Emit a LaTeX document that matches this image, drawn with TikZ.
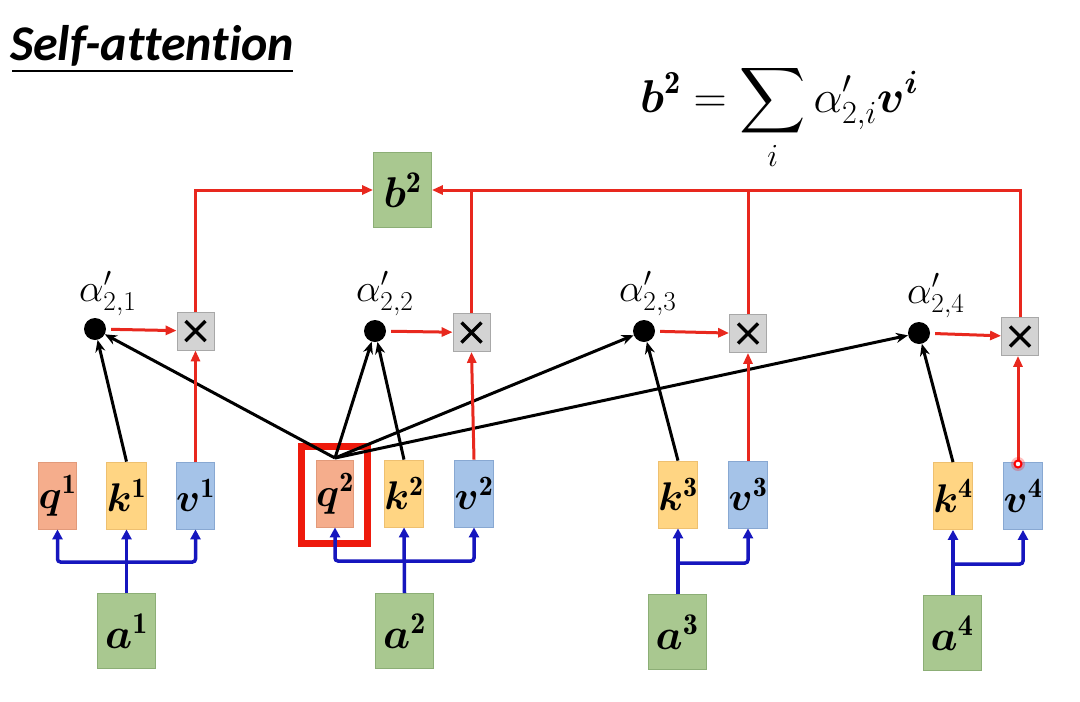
\RequirePackage{fix-cm}
\documentclass[tikz,border=0pt]{standalone}
\usepackage{amsmath}
\usepackage{bm}
\DeclareFontShape{OMX}{cmex}{m}{n}{<-> cmex10}{}
\usepackage{fontspec}
\newfontfamily\titlefont[Ligatures=NoCommon]{Carlito}
\usetikzlibrary{arrows.meta}
\definecolor{qcol}{HTML}{F5AD8C}
\definecolor{qcolD}{HTML}{E29A7A}
\definecolor{kcol}{HTML}{FFD583}
\definecolor{kcolD}{HTML}{EEC070}
\definecolor{vcol}{HTML}{A5C3E8}
\definecolor{vcolD}{HTML}{88A8D2}
\definecolor{gcol}{HTML}{A9C890}
\definecolor{gcolD}{HTML}{8CAE76}
\definecolor{xcol}{HTML}{D3D3D3}
\definecolor{xcolD}{HTML}{A8A8A8}
\definecolor{redc}{HTML}{E8281E}
\definecolor{hlred}{HTML}{EE1A0C}
\definecolor{bluec}{HTML}{1616BE}
\tikzset{
  vec/.style={rectangle, inner sep=0pt, line width=0.8pt, minimum width=37pt, minimum height=67pt,
    font=\fontsize{40}{44}\selectfont},
  qbox/.style={vec, fill=qcol, draw=qcolD},
  kbox/.style={vec, fill=kcol, draw=kcolD},
  vbox/.style={vec, fill=vcol, draw=vcolD},
  gbox/.style={rectangle, inner sep=0pt, line width=0.8pt, fill=gcol, draw=gcolD,
    minimum width=58pt, minimum height=75pt, font=\fontsize{43}{46}\selectfont},
  mult/.style={rectangle, inner sep=0pt, fill=xcol, draw=xcolD, line width=0.8pt,
    minimum width=37pt, minimum height=38pt,
    path picture={\draw[draw=black, line width=3.4pt]
      ([shift={(-10pt,-10pt)}]path picture bounding box.center) -- ++(20pt,20pt)
      ([shift={(-10pt,10pt)}]path picture bounding box.center) -- ++(20pt,-20pt);}},
  dot/.style={circle, fill=black, inner sep=0pt, minimum size=22pt},
  alab/.style={anchor=base west, inner sep=0pt, font=\fontsize{39}{42}\selectfont},
  redarr/.style={draw=redc, line width=3pt, -{Triangle[length=11pt,width=9pt]}},
  redline/.style={draw=redc, line width=3pt},
  blkarr/.style={draw=black, line width=3pt, -{Stealth[length=12pt,width=10pt]}},
  bluarr/.style={draw=bluec, line width=3.5pt, rounded corners=3pt, -{Triangle[length=10pt,width=10pt]}},
}
\begin{document}
\begin{tikzpicture}[x=1pt,y=-1pt]
\useasboundingbox[fill=white] (0,0) rectangle (1080,702);

% title
\node[anchor=base west, inner sep=0pt, font=\titlefont\bfseries\itshape\fontsize{50}{56}\selectfont] (title) at (10,60) {Self-attention};
\draw[line width=1.6pt] (12,71) -- (293,71);

% formula
\node[anchor=base west, inner sep=0pt, font=\fontsize{46}{52}\selectfont] (eq) at (640,112)
  {$\displaystyle \boldsymbol{b}^{\mathbf{2}} = \sum_i \alpha'_{2,i}\boldsymbol{v}^{\boldsymbol{i}}$};

% vectors
\node[qbox] (q1) at (57.5,495.5) {$\boldsymbol{q}^{\mathbf{1}}$};
\node[kbox] (k1) at (126.5,495.5) {$\boldsymbol{k}^{\mathbf{1}}$};
\node[vbox] (v1) at (195.5,495.5) {$\boldsymbol{v}^{\mathbf{1}}$};
\node[qbox] (q2) at (335,493.5) {$\boldsymbol{q}^{\mathbf{2}}$};
\node[kbox] (k2) at (404,493.5) {$\boldsymbol{k}^{\mathbf{2}}$};
\node[vbox] (v2) at (474,493.5) {$\boldsymbol{v}^{\mathbf{2}}$};
\node[kbox] (k3) at (678,494.5) {$\boldsymbol{k}^{\mathbf{3}}$};
\node[vbox] (v3) at (748,494.5) {$\boldsymbol{v}^{\mathbf{3}}$};
\node[kbox] (k4) at (953,496) {$\boldsymbol{k}^{\mathbf{4}}$};
\node[vbox] (v4) at (1023,496) {$\boldsymbol{v}^{\mathbf{4}}$};

% inputs
\node[gbox] (a1) at (126.5,631) {$\boldsymbol{a}^{\mathbf{1}}$};
\node[gbox] (a2) at (404.5,631) {$\boldsymbol{a}^{\mathbf{2}}$};
\node[gbox] (a3) at (677,632) {$\boldsymbol{a}^{\mathbf{3}}$};
\node[gbox] (a4) at (952,633) {$\boldsymbol{a}^{\mathbf{4}}$};

% output
\node[gbox] (b2) at (402.5,190) {$\boldsymbol{b}^{\mathbf{2}}$};

% multipliers
\node[mult] (x1) at (195.5,331) {};
\node[mult] (x2) at (471.5,332.5) {};
\node[mult] (x3) at (748,333.5) {};
\node[mult] (x4) at (1020,336.5) {};

% attention scores
\node[dot] (d1) at (95,329) {};
\node[dot] (d2) at (375,331) {};
\node[dot] (d3) at (644,331) {};
\node[dot] (d4) at (919,333) {};
\node[alab] (l1) at (79,301) {$\alpha'_{2,1}$};
\node[alab] (l2) at (356,301) {$\alpha'_{2,2}$};
\node[alab] (l3) at (619,301) {$\alpha'_{2,3}$};
\node[alab] (l4) at (907,303) {$\alpha'_{2,4}$};

% highlight around q2
\node[draw=hlred, line width=7pt, minimum width=66pt, minimum height=97pt, inner sep=0pt] (hl) at (334.5,495) {};

% blue input branches
\coordinate (j1) at (126.5,562);
\coordinate (j2) at (404.5,561);
\coordinate (j3) at (678,563);
\coordinate (j4) at (953,564);
\draw[bluarr] (a1.north) -- (k1.south);
\draw[bluarr] (j1) -| (q1.south);
\draw[bluarr] (j1) -| (v1.south);
\draw[bluarr] (a2.north) -- (k2.south);
\draw[bluarr] (j2) -| (q2.south);
\draw[bluarr] (j2) -| (v2.south);
\draw[bluarr] (a3.north -| j3) -- (k3.south);
\draw[bluarr] (j3) -| (v3.south);
\draw[bluarr] (a4.north -| j4) -- (k4.south);
\draw[bluarr] (j4) -| (v4.south);

% black score arrows
\coordinate (qt) at (335,458);
\draw[blkarr] (k1.north) -- (d1);
\draw[blkarr] (qt) -- (d1);
\draw[blkarr] (qt) -- (d2);
\draw[blkarr] (k2.north) -- (d2);
\draw[blkarr] (qt) -- (d3);
\draw[blkarr] (k3.north) -- (d3);
\draw[blkarr] (qt) -- (d4);
\draw[blkarr] (k4.north) -- (d4);

% red weighting arrows
\draw[redarr, shorten <=5pt] (d1) -- (x1);
\draw[redarr, shorten <=5pt] (d2) -- (x2);
\draw[redarr, shorten <=5pt] (d3) -- (x3);
\draw[redarr, shorten <=5pt] (d4) -- (x4);
\draw[redarr] (v1.north) -- (x1.south);
\draw[redarr] (v2.north) -- (x2.south);
\draw[redarr] (v3.north) -- (x3.south);
\coordinate (ring) at (1018,464);
\draw[redarr] (ring) -- (ring |- x4.south);
\fill[red, opacity=0.25] (ring) circle (7pt);
\draw[red, line width=2pt, fill=white] (ring) circle (3.5pt);

% summation into b2
\draw[redarr] (x1.north) |- (b2.west);
\draw[redarr] (x4.north) |- (b2.east);
\draw[redline] (x2.north) -- (x2.north |- b2.east);
\draw[redline] (x3.north) -- (x3.north |- b2.east);
\end{tikzpicture}
\end{document}
